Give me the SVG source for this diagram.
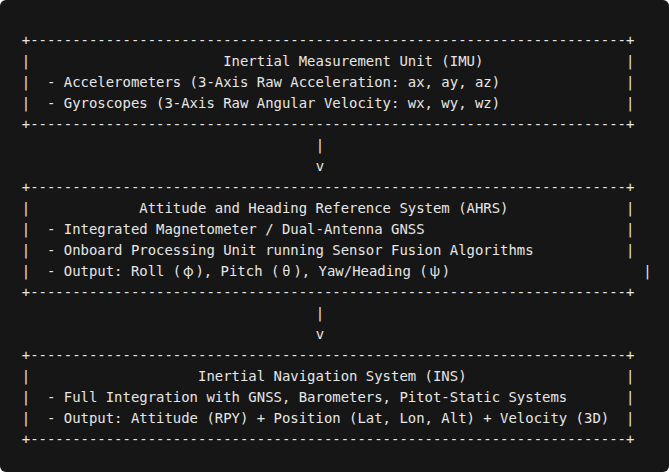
<svg xmlns="http://www.w3.org/2000/svg" width="669" height="472" viewBox="0 0 669 472">
<style>
.t{font-family:"DejaVu Sans Mono","Liberation Mono",monospace;font-size:13.95px;fill:#e6e6e6;white-space:pre}
.g{font-family:"Noto Sans CJK SC","DejaVu Sans",sans-serif;font-size:14px;fill:#e6e6e6;text-anchor:middle}
</style>
<rect x="0" y="0" width="669" height="472" rx="6" ry="6" fill="#161616"/>
<g id="imu">
<text class="t" xml:space="preserve" x="21.8" y="45.4">+-----------------------------------------------------------------------+</text>
<text class="t" xml:space="preserve" x="21.8" y="66.4">|                       Inertial Measurement Unit (IMU)                 |</text>
<text class="t" xml:space="preserve" x="21.8" y="87.3">|  - Accelerometers (3-Axis Raw Acceleration: ax, ay, az)               |</text>
<text class="t" xml:space="preserve" x="21.8" y="108.3">|  - Gyroscopes (3-Axis Raw Angular Velocity: wx, wy, wz)               |</text>
<text class="t" xml:space="preserve" x="21.8" y="129.2">+-----------------------------------------------------------------------+</text>
</g>
<g id="ahrs">
<text class="t" xml:space="preserve" x="21.8" y="192.1">+-----------------------------------------------------------------------+</text>
<text class="t" xml:space="preserve" x="21.8" y="213">|             Attitude and Heading Reference System (AHRS)              |</text>
<text class="t" xml:space="preserve" x="21.8" y="234">|  - Integrated Magnetometer / Dual-Antenna GNSS                        |</text>
<text class="t" xml:space="preserve" x="21.8" y="254.9">|  - Onboard Processing Unit running Sensor Fusion Algorithms           |</text>
<text class="t" xml:space="preserve" x="21.8" y="275.9">|  - Output: Roll (</text>
<text class="g" x="188.4" y="275.9">φ</text>
<text class="t" xml:space="preserve" x="195.4" y="275.9">), Pitch (</text>
<text class="g" x="286.4" y="275.9">θ</text>
<text class="t" xml:space="preserve" x="293.4" y="275.9">), Yaw/Heading (</text>
<text class="g" x="434.8" y="275.9">ψ</text>
<text class="t" xml:space="preserve" x="441.8" y="275.9">)                       |</text>
<text class="t" xml:space="preserve" x="21.8" y="296.8">+-----------------------------------------------------------------------+</text>
</g>
<g id="ins">
<text class="t" xml:space="preserve" x="21.8" y="359.7">+-----------------------------------------------------------------------+</text>
<text class="t" xml:space="preserve" x="21.8" y="380.6">|                    Inertial Navigation System (INS)                   |</text>
<text class="t" xml:space="preserve" x="21.8" y="401.6">|  - Full Integration with GNSS, Barometers, Pitot-Static Systems       |</text>
<text class="t" xml:space="preserve" x="21.8" y="422.5">|  - Output: Attitude (RPY) + Position (Lat, Lon, Alt) + Velocity (3D)  |</text>
<text class="t" xml:space="preserve" x="21.8" y="443.5">+-----------------------------------------------------------------------+</text>
</g>
<g id="connectors">
<text class="t" x="315.8" y="150.2">|</text>
<text class="t" x="315.8" y="171.1">v</text>
<text class="t" x="315.8" y="317.8">|</text>
<text class="t" x="315.8" y="338.7">v</text>
</g>
</svg>
